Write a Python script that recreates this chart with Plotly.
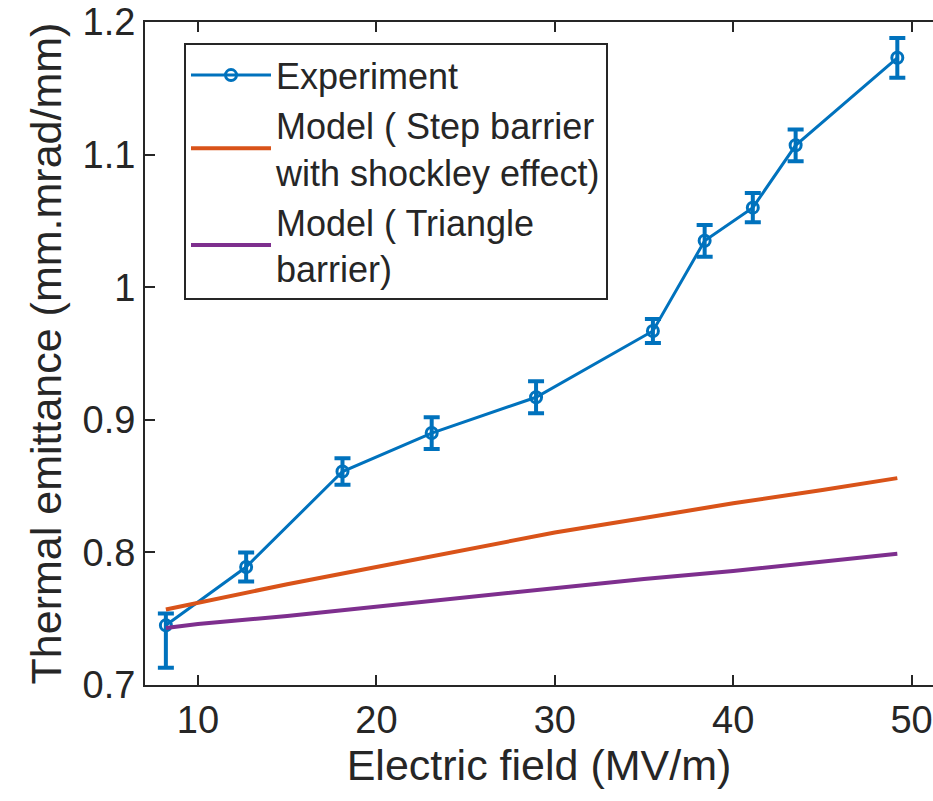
import plotly.graph_objects as go

# Measured thermal emittance vs. applied electric field
field_exp = [8.2, 12.7, 18.1, 23.1, 28.95, 35.5, 38.4, 41.1, 43.5, 49.2]
emit_exp = [0.745, 0.789, 0.861, 0.890, 0.917, 0.967, 1.035, 1.060, 1.107, 1.173]
err_plus = [0.009, 0.011, 0.010, 0.012, 0.012, 0.009, 0.012, 0.011, 0.012, 0.015]
err_minus = [0.032, 0.011, 0.010, 0.012, 0.012, 0.009, 0.012, 0.011, 0.012, 0.015]

# Model curves
field_model = [8.2, 10, 15, 20, 25, 30, 35, 40, 45, 49.2]
emit_step = [0.757, 0.762, 0.776, 0.789, 0.802, 0.815, 0.826, 0.837, 0.847, 0.856]
emit_tri = [0.743, 0.746, 0.752, 0.759, 0.766, 0.773, 0.780, 0.786, 0.793, 0.799]

names = ["Experiment",
         "Model ( Step barrier<br>with shockley effect)",
         "Model ( Triangle<br>barrier)"]
x_ticks = [10, 20, 30, 40, 50]
y_ticks = [0.7, 0.8, 0.9, 1.0, 1.1, 1.2]
y_tick_text = ["0.7", "0.8", "0.9", "1", "1.1", "1.2"]

BLUE = "#0072BD"
ORANGE = "#D95319"
PURPLE = "#7E2F8E"
INK = "#262626"
FONT = "Liberation Sans, Arial, sans-serif"

fig = go.Figure()
fig.add_trace(go.Scatter(
    x=field_exp, y=emit_exp, name=names[0], mode="lines+markers",
    line=dict(color=BLUE, width=3),
    marker=dict(symbol="circle-open", size=11, color=BLUE, line=dict(width=3)),
    error_y=dict(type="data", symmetric=False, array=err_plus, arrayminus=err_minus,
                 color=BLUE, thickness=4, width=8),
))
fig.add_trace(go.Scatter(
    x=field_model, y=emit_step, name=names[1], mode="lines",
    line=dict(color=ORANGE, width=4),
))
fig.add_trace(go.Scatter(
    x=field_model, y=emit_tri, name=names[2], mode="lines",
    line=dict(color=PURPLE, width=4),
))

fig.update_layout(
    width=933, height=801,
    margin=dict(l=145, r=0, t=22, b=116),
    paper_bgcolor="white", plot_bgcolor="white",
    font=dict(family=FONT, color=INK, size=38),
    showlegend=True,
    legend=dict(
        x=0.0495, y=0.968, xanchor="left", yanchor="top",
        bgcolor="white", bordercolor=INK, borderwidth=2,
        font=dict(size=36, color=INK), itemwidth=80, tracegroupgap=0,
    ),
    xaxis=dict(
        range=[7.03, 51.2], tickvals=x_ticks, ticks="inside", ticklen=10,
        tickwidth=2, tickcolor=INK, showline=True, linewidth=2, linecolor=INK,
        mirror="ticks", showgrid=False, zeroline=False,
        tickfont=dict(size=38, color=INK),
        title=dict(text="Electric field (MV/m)", font=dict(size=43, color=INK), standoff=8),
    ),
    yaxis=dict(
        range=[0.7, 1.2], tickvals=y_ticks, ticktext=y_tick_text, ticks="inside",
        ticklen=10, tickwidth=2, tickcolor=INK, showline=True, linewidth=2,
        linecolor=INK, showgrid=False, zeroline=False,
        tickfont=dict(size=38, color=INK),
        title=dict(text="Thermal emittance (mm.mrad/mm)", font=dict(size=43, color=INK), standoff=8),
    ),
)

fig.write_html("out.html")
